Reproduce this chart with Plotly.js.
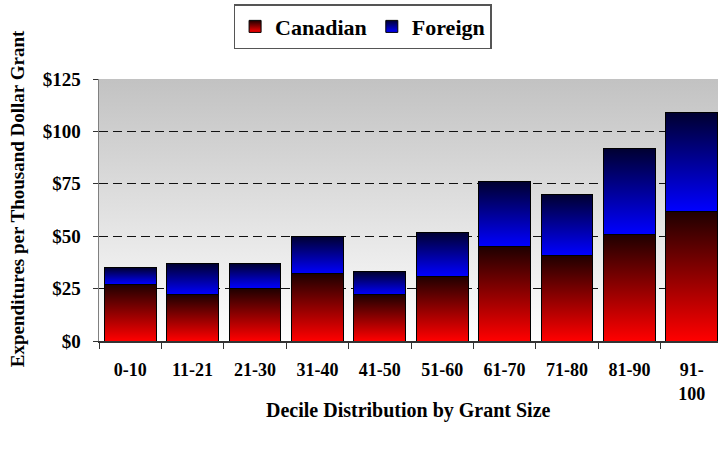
<!DOCTYPE html>
<html>
<head>
<meta charset="utf-8">
<script src="https://cdn.plot.ly/plotly-3.0.1.min.js"></script>
<style>html,body{margin:0;padding:0;background:#fff;}#chart{width:718px;height:453px;}</style>
</head>
<body>
<div id="chart"></div>
<script>
const categories = ["0-10", "11-21", "21-30", "31-40", "41-50", "51-60", "61-70", "71-80", "81-90", "91-<br>100"];
const canadian = [27, 22, 25, 32, 22, 31, 45, 41, 51, 62];
const foreign  = [8, 15, 12, 18, 11, 21, 31, 29, 41, 47];
const yTicks = [0, 25, 50, 75, 100, 125];
const yTickLabels = ["$0", "$25", "$50", "$75", "$100", "$125"];

const serif = "Liberation Serif, Times New Roman, serif";

const traces = [
  {type: "bar", name: "Canadian", x: categories, y: canadian,
   marker: {color: "#b00000", line: {color: "#000", width: 1}}},
  {type: "bar", name: "Foreign", x: categories, y: foreign,
   marker: {color: "#0000b0", line: {color: "#000", width: 1}}}
];

const layout = {
  width: 718, height: 453,
  margin: {l: 99, r: 0, t: 79, b: 112},
  barmode: "stack",
  bargap: 0.17,
  paper_bgcolor: "#ffffff",
  plot_bgcolor: "#e0e0e0",
  font: {family: serif, color: "#000", weight: "bold"},
  showlegend: true,
  legend: {
    orientation: "h", traceorder: "normal", xref: "container", yref: "container",
    x: 0.505, xanchor: "center", y: 0.991, yanchor: "top",
    bordercolor: "#555", borderwidth: 1.5, bgcolor: "#fff",
    font: {family: serif, size: 22, weight: "bold", color: "#000"},
    itemwidth: 30, tracegroupgap: 0
  },
  xaxis: {
    type: "category",
    range: [-0.5, 9.42],
    showline: true, linecolor: "#333", linewidth: 1.5,
    ticks: "outside", tickson: "boundaries", ticklen: 6, tickcolor: "#333",
    tickfont: {family: serif, size: 18, weight: "bold", color: "#000"},
    ticklabelstandoff: 12,
    showgrid: false, zeroline: false, fixedrange: true
  },
  yaxis: {
    range: [0, 125],
    tickmode: "array", tickvals: yTicks, ticktext: yTickLabels,
    showline: true, linecolor: "#808080", linewidth: 1.5,
    ticks: "outside", ticklen: 5, tickcolor: "#333",
    tickfont: {family: serif, size: 19, weight: "bold", color: "#000"},
    ticklabelstandoff: 8,
    showgrid: true, gridcolor: "#111", gridwidth: 1, griddash: "9px,5px",
    zeroline: false, fixedrange: true
  },
  annotations: [
    {text: "Decile Distribution by Grant Size", xref: "paper", yref: "paper",
     x: 0.5, y: -0.2634, xanchor: "center", yanchor: "middle", showarrow: false,
     font: {family: serif, size: 20, weight: "bold", color: "#000"}},
    {text: "Expenditures per Thousand Dollar Grant", xref: "paper", yref: "paper",
     x: -0.1306, y: 0.542, xanchor: "center", yanchor: "middle", textangle: -90, showarrow: false,
     font: {family: serif, size: 19, weight: "bold", color: "#000"}}
  ]
};

function addGradients(gd) {
  const svg = gd.querySelector("svg.main-svg");
  const NS = "http://www.w3.org/2000/svg";
  let defs = svg.querySelector("defs");
  if (!defs) { defs = document.createElementNS(NS, "defs"); svg.insertBefore(defs, svg.firstChild); }
  function grad(id, stops) {
    const g = document.createElementNS(NS, "linearGradient");
    g.setAttribute("id", id);
    g.setAttribute("x1", "0"); g.setAttribute("y1", "0");
    g.setAttribute("x2", "0"); g.setAttribute("y2", "1");
    stops.forEach(s => {
      const st = document.createElementNS(NS, "stop");
      st.setAttribute("offset", s[0]);
      st.setAttribute("stop-color", s[1]);
      g.appendChild(st);
    });
    defs.appendChild(g);
  }
  grad("gCan", [["0", "#1e0000"], ["1", "#ff0000"]]);
  grad("gFor", [["0", "#000030"], ["1", "#0000ff"]]);
  grad("gBg", [["0", "#c2c2c2"], ["1", "#ffffff"]]);
  const fillFor = {"Canadian": "url(#gCan)", "Foreign": "url(#gFor)"};
  const ids = ["url(#gCan)", "url(#gFor)"];
  gd.querySelectorAll(".barlayer .trace.bars").forEach((t, i) => {
    t.querySelectorAll(".point path").forEach(p => p.style.setProperty("fill", ids[i]));
  });
  gd.querySelectorAll(".legend .traces").forEach(t => {
    const txt = t.querySelector("text.legendtext");
    const f = txt ? fillFor[txt.textContent.trim()] : null;
    if (f) t.querySelectorAll(".legendpoints path").forEach(p => p.style.setProperty("fill", f));
  });
  const bg = gd.querySelector(".bglayer .bg");
  if (bg) bg.style.setProperty("fill", "url(#gBg)");
}

Plotly.newPlot("chart", traces, layout, {staticPlot: true, displayModeBar: false}).then(addGradients);
</script>
</body>
</html>
